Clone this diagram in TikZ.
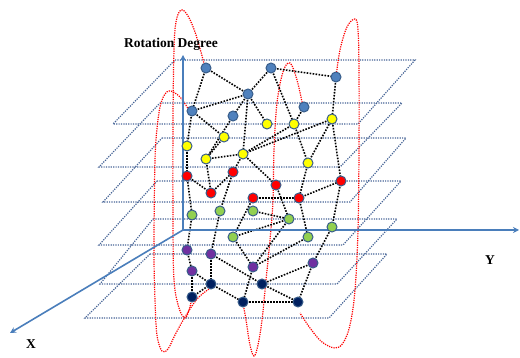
\documentclass[tikz,border=0pt]{standalone}
\usepackage{fontspec}
\setmainfont{Liberation Serif}
\usetikzlibrary{arrows.meta}
\definecolor{planeblue}{RGB}{70,100,150}
\definecolor{axisblue}{RGB}{74,126,187}
\definecolor{nodeblue}{RGB}{79,129,189}
\definecolor{nodeyellow}{RGB}{255,255,0}
\definecolor{nodered}{RGB}{255,0,0}
\definecolor{nodegreen}{RGB}{146,208,80}
\definecolor{nodepurple}{RGB}{112,48,160}
\definecolor{nodenavy}{RGB}{0,32,96}
\definecolor{rimblue}{RGB}{56,93,138}
\begin{document}
\begin{tikzpicture}[x=1pt,y=-1pt,
  plane/.style={planeblue, line width=1.2pt, dash pattern=on 1.2pt off 1.2pt},
  loopline/.style={red, line width=1.2pt, dash pattern=on 1.2pt off 1.1pt},
  link/.style={black, line width=1.6pt, dash pattern=on 1.6pt off 1.4pt},
  axisline/.style={axisblue, line width=1.6pt, -{Stealth[length=6pt,width=6pt]}},
  dot/.style={circle, draw=rimblue, line width=1pt, minimum size=10pt, inner sep=0pt},
  lbl/.style={font=\bfseries\fontsize{13.5}{15}\selectfont, inner sep=0pt}]
\useasboundingbox (0,0) rectangle (520,358);

% planes
\draw[plane] (175,60) -- (415,60) -- (358,124) -- (113,124) -- cycle;
\draw[plane] (160,103) -- (402,103) -- (340,167) -- (99,167) -- cycle;
\draw[plane] (162,138) -- (406,138) -- (350,202) -- (103,202) -- cycle;
\draw[plane] (157,181) -- (401,181) -- (343,245) -- (99,245) -- cycle;
\draw[plane] (153,219) -- (397,219) -- (337,284) -- (100,284) -- cycle;
\draw[plane] (150,254) -- (387,254) -- (329,318) -- (85,318) -- cycle;

% red loops
\draw[loopline] plot[smooth, tension=0.6] coordinates {(205,67) (196,35) (188,16) (181,10) (176,22) (174,50) (173,120) (173,220) (174,280) (179,308) (185,318) (189,310) (192,298)};
\draw[loopline] plot[smooth, tension=0.6] coordinates {(190,112) (180,97) (169,91) (162,100) (158,120) (155,160) (154,250) (155,300) (157,335) (162,351) (168,349) (175,335) (185,317) (198,298) (212,287)};
\draw[loopline] plot[smooth, tension=0.6] coordinates {(303,107) (297,80) (290,63) (283,72) (277,103) (274,150) (273,200) (270,240) (266,280) (262,320) (258,345) (254,356) (250,345) (246,320) (243,303)};
\draw[loopline] plot[smooth, tension=0.6] coordinates {(336,77) (340,50) (347,27) (355,19) (358,30) (359,70) (359,150) (358,230) (355,290) (350,325) (343,343) (335,348) (322,342) (310,328) (300,313)};

% node coordinates
\coordinate (b1) at (206,68);  \coordinate (b2) at (271,68);  \coordinate (b3) at (336,77);
\coordinate (b4) at (248,94);  \coordinate (b5) at (192,111); \coordinate (b6) at (233,116);
\coordinate (b7) at (304,107);
\coordinate (y1) at (267,124); \coordinate (y2) at (294,124); \coordinate (y3) at (332,119);
\coordinate (y4) at (224,137); \coordinate (y5) at (187,146); \coordinate (y6) at (206,159);
\coordinate (y7) at (243,154); \coordinate (y8) at (308,163);
\coordinate (r1) at (187,176); \coordinate (r2) at (233,172); \coordinate (r3) at (211,193);
\coordinate (r4) at (276,185); \coordinate (r5) at (341,181); \coordinate (r6) at (253,198);
\coordinate (r7) at (299,198);
\coordinate (g1) at (192,215); \coordinate (g2) at (220,211); \coordinate (g3) at (253,211);
\coordinate (g4) at (289,219); \coordinate (g5) at (332,227); \coordinate (g6) at (233,237);
\coordinate (g7) at (308,237);
\coordinate (p1) at (187,250); \coordinate (p2) at (211,254); \coordinate (p3) at (253,267);
\coordinate (p4) at (313,263); \coordinate (p5) at (192,271);
\coordinate (n1) at (211,284); \coordinate (n2) at (262,284); \coordinate (n3) at (192,297);
\coordinate (n4) at (243,302); \coordinate (n5) at (298,302);

% links
\foreach \a/\b in {b1/b4, b1/b5, b2/b3, b2/b4, b2/y2, b3/y3, b4/b5, b4/b6, b4/y1, b4/y7,
  b5/y5, b5/y4, b6/y6, b7/y2, y2/y7, y3/y7, y2/y8, y3/y8, y3/r5, y4/y6, y5/r1, y6/y7,
  y6/r3, y7/r2, y7/r4, y8/r7, r1/r3, r3/r2, r1/g1, r2/g2, r4/g4, r6/r7, r7/r5, r5/g5,
  r6/g6, r7/g7, g3/g4, g4/g6, g4/p3, g6/p3, g7/p3, g5/p4, g1/p1, g2/p2, p1/p5, p2/n1,
  p2/n2, p3/n4, p4/n2, p4/n5, p5/n1, p5/n3, n3/n1, n1/n4, n4/n5, n2/n5}
  \draw[link] (\a) -- (\b);

% axes
\coordinate (O) at (183,230);
\coordinate (ztop) at (183,55);
\coordinate (yend) at (519,230);
\coordinate (xend) at (10,333);
\draw[axisline] (O) -- (ztop);
\draw[axisline] (O) -- (yend);
\draw[axisline] (O) -- (xend);

% nodes
\foreach \n in {b1,b2,b3,b4,b5,b6,b7} \node[dot, fill=nodeblue] (N\n) at (\n) {};
\foreach \n in {y1,y2,y3,y4,y5,y6,y7,y8} \node[dot, fill=nodeyellow] (N\n) at (\n) {};
\foreach \n in {r1,r2,r3,r4,r5,r6,r7} \node[dot, fill=nodered] (N\n) at (\n) {};
\foreach \n in {g1,g2,g3,g4,g5,g6,g7} \node[dot, fill=nodegreen] (N\n) at (\n) {};
\foreach \n in {p1,p2,p3,p4,p5} \node[dot, fill=nodepurple] (N\n) at (\n) {};
\foreach \n in {n1,n2,n3,n4,n5} \node[dot, fill=nodenavy] (N\n) at (\n) {};

% labels
\node[lbl] (rd) at (171,44) {Rotation Degree};
\node[lbl] (xl) at (31,344) {X};
\node[lbl] (yl) at (490,260) {Y};
\end{tikzpicture}
\end{document}
